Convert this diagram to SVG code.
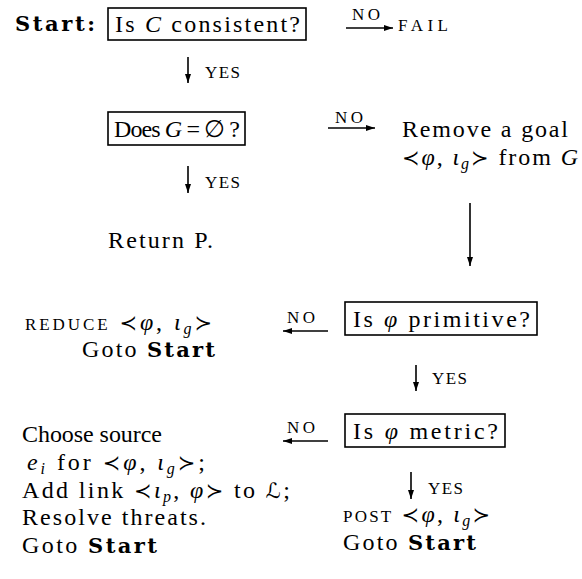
<svg xmlns="http://www.w3.org/2000/svg" width="582" height="579" viewBox="0 0 582 579">
<defs>
<style>
.t{font-family:"Liberation Serif","DejaVu Serif",serif;font-size:24px;fill:#000}
.sc{font-size:17px}
.bd{font-family:"DejaVu Serif",serif;font-weight:bold;font-size:21px}
.m{font-style:italic}
.s{font-family:"DejaVu Sans",sans-serif;font-style:normal;font-size:21px}
.sub{font-style:italic;font-size:16px}
.box{fill:none;stroke:#000;stroke-width:1.6}
.c{stroke:#000;stroke-width:1.6;fill:none;marker-end:url(#ah)}
</style>
<marker id="ah" markerUnits="userSpaceOnUse" markerWidth="10" markerHeight="6" refX="9" refY="3" orient="auto">
<path d="M0,0 L9,3 L0,6 z" fill="#000"/>
</marker>
</defs>
<rect width="582" height="579" fill="#fff"/>

<g id="start-label"><text class="t bd" x="15" y="31" textLength="80">Start:</text></g>

<g id="n-consistent">
<rect class="box" x="108" y="8" width="198" height="32"/>
<text class="t" x="115" y="32" textLength="185">Is <tspan class="m">C</tspan> consistent?</text>
</g>

<g id="n-fail"><text class="t sc" x="398" y="31" textLength="50">FAIL</text></g>

<g id="n-goal-empty">
<rect class="box" x="108" y="112" width="137" height="33"/>
<text class="t" x="114" y="137" font-size="22" textLength="126">Does <tspan class="m">G</tspan>  = ∅ ?</text>
</g>

<g id="n-remove">
<text class="t" x="402" y="137" textLength="166">Remove a goal</text>
<text class="t" x="402" y="165" textLength="176"><tspan class="s">≺</tspan><tspan class="m">φ</tspan>, <tspan class="m">ι</tspan><tspan class="sub" dy="4">g</tspan><tspan class="s" dy="-4">≻</tspan> from <tspan class="m">G</tspan></text>
</g>

<g id="n-return"><text class="t" x="108" y="248" textLength="105">Return P.</text></g>

<g id="n-primitive">
<rect class="box" x="345" y="302" width="192" height="33"/>
<text class="t" x="353" y="327" textLength="177">Is <tspan class="m">φ</tspan> primitive?</text>
</g>

<g id="n-reduce">
<text class="t" x="25" y="330" textLength="187"><tspan class="sc">REDUCE</tspan>  <tspan class="s">≺</tspan><tspan class="m">φ</tspan>, <tspan class="m">ι</tspan><tspan class="sub" dy="4">g</tspan><tspan class="s" dy="-4">≻</tspan></text>
<text class="t" x="82" y="357" textLength="133">Goto <tspan class="bd">Start</tspan></text>
</g>

<g id="n-metric">
<rect class="box" x="345" y="414" width="160" height="33"/>
<text class="t" x="353" y="439" textLength="145">Is <tspan class="m">φ</tspan> metric?</text>
</g>

<g id="n-choose">
<text class="t" x="22" y="442" textLength="140">Choose source</text>
<text class="t" x="27" y="470" textLength="178"><tspan class="m">e</tspan><tspan class="sub" dy="4">i</tspan><tspan dy="-4"> for </tspan><tspan class="s">≺</tspan><tspan class="m">φ</tspan>, <tspan class="m">ι</tspan><tspan class="sub" dy="4">g</tspan><tspan class="s" dy="-4">≻</tspan>;</text>
<text class="t" x="22" y="498" textLength="268">Add link <tspan class="s">≺</tspan><tspan class="m">ι</tspan><tspan class="sub" dy="4">p</tspan><tspan dy="-4">, </tspan><tspan class="m">φ</tspan><tspan class="s">≻</tspan> to <tspan class="s">ℒ</tspan>;</text>
<text class="t" x="22" y="525" textLength="184">Resolve threats.</text>
<text class="t" x="22" y="553" textLength="135">Goto <tspan class="bd">Start</tspan></text>
</g>

<g id="n-post">
<text class="t" x="343" y="522" textLength="147"><tspan class="sc">POST</tspan> <tspan class="s">≺</tspan><tspan class="m">φ</tspan>, <tspan class="m">ι</tspan><tspan class="sub" dy="4">g</tspan><tspan class="s" dy="-4">≻</tspan></text>
<text class="t" x="343" y="550" textLength="133">Goto <tspan class="bd">Start</tspan></text>
</g>

<g id="connectors">
<line class="c" x1="346" y1="28" x2="393" y2="28"/>
<text class="t sc" x="352" y="20" textLength="28">NO</text>
<line class="c" x1="188" y1="57" x2="188" y2="83"/>
<text class="t sc" x="205" y="78" textLength="35">YES</text>
<line class="c" x1="328" y1="128" x2="375" y2="128"/>
<text class="t sc" x="335" y="123" textLength="28">NO</text>
<line class="c" x1="188" y1="166" x2="188" y2="193"/>
<text class="t sc" x="205" y="188" textLength="35">YES</text>
<line class="c" x1="470" y1="203" x2="470" y2="266"/>
<line class="c" x1="328" y1="331" x2="283" y2="331"/>
<text class="t sc" x="287" y="323" textLength="28">NO</text>
<line class="c" x1="416" y1="365" x2="416" y2="391"/>
<text class="t sc" x="432" y="384" textLength="35">YES</text>
<line class="c" x1="328" y1="441" x2="283" y2="441"/>
<text class="t sc" x="287" y="433" textLength="28">NO</text>
<line class="c" x1="411" y1="472" x2="411" y2="499"/>
<text class="t sc" x="428" y="494" textLength="35">YES</text>
</g>
</svg>
